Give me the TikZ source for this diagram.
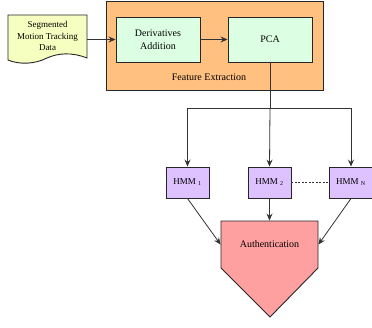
\documentclass[tikz,border=0pt]{standalone}
\usepackage{fontspec}
\setmainfont{Liberation Serif}
\usetikzlibrary{arrows.meta}
\definecolor{docfill}{RGB}{246,255,192}
\definecolor{orangefill}{RGB}{255,192,128}
\definecolor{greenfill}{RGB}{220,255,228}
\definecolor{purplefill}{RGB}{222,194,255}
\definecolor{pinkfill}{RGB}{255,160,160}
\begin{document}
\begin{tikzpicture}[x=1pt,y=-1pt,
  line width=0.9pt,
  box/.style={draw=black!85,line width=0.9pt,inner sep=0pt,align=center,font=\fontsize{10}{13}\selectfont},
  hmm/.style={box,fill=purplefill,minimum width=43pt,minimum height=31pt,font=\fontsize{9}{11}\selectfont},
  conn/.style={draw=black!80,line width=0.8pt,-{Stealth[length=7pt,width=6pt,inset=2.5pt]}},
  plain/.style={draw=black!80,line width=0.8pt}]
\useasboundingbox (0,0) rectangle (372,327);
% feature extraction container
\node[box,fill=orangefill,minimum width=217pt,minimum height=89pt,anchor=north west] (fe) at (106,0.5) {};
\node[font=\fontsize{10}{12}\selectfont] (felabel) at (209,77) {Feature Extraction};
% document
\draw[draw=black!85,fill=docfill,line width=0.9pt] (8,15) -- (87,15) -- (87,58)
  .. controls (72,52) and (58,53) .. (47,58)
  .. controls (35,64) and (20,65) .. (8,60) -- cycle;
\node[inner sep=0pt,minimum width=79pt,minimum height=40pt,align=center,font=\fontsize{9}{11.5}\selectfont] (doc) at (47.5,36) {Segmented\\Motion Tracking\\Data};
\node[box,fill=greenfill,minimum width=84pt,minimum height=45pt] (der) at (158,39.5) {Derivatives\\Addition};
\node[box,fill=greenfill,minimum width=84pt,minimum height=45pt] (pca) at (270,39.5) {PCA};
\node[hmm] (h1) at (187.5,182.5) {HMM \textsubscript{1}};
\node[hmm] (h2) at (269.5,182.5) {HMM \textsubscript{2}};
\node[hmm] (hn) at (351,182.5) {HMM \textsubscript{N}};
\draw[draw=black!85,fill=pinkfill,line width=0.9pt] (221,221) -- (318,221) -- (318,268) -- (270,317) -- (221,268) -- cycle;
\node[font=\fontsize{10}{12}\selectfont,inner sep=0pt,minimum width=97pt,minimum height=47pt] (auth) at (269.5,244.5) {Authentication};
\coordinate (split) at (270,108);
\coordinate (sl) at (187.5,108);
\coordinate (sr) at (351,108);
\draw[conn] (doc.east |- der.west) -- (der.west);
\draw[conn] (der.east) -- (pca.west);
\draw[plain] (pca.south) -- (split);
\draw[plain] (sl) -- (sr);
\draw[conn] (sl) -- (h1.north);
\draw[conn] (split) -- (h2.north);
\draw[conn] (sr) -- (hn.north);
\draw[draw=black!80,line width=0.8pt,dash pattern=on 2pt off 1.5pt] (h2.east) -- (hn.west);
\draw[conn] (h1.south) -- (auth.west);
\draw[conn] (h2.south) -- (auth.north);
\draw[conn] (hn.south) -- (auth.east);
\end{tikzpicture}
\end{document}
